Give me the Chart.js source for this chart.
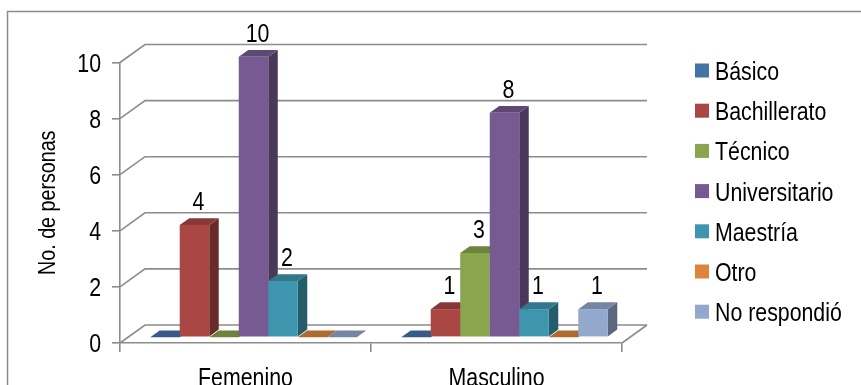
<!DOCTYPE html>
<html>
<head>
<meta charset="utf-8">
<script src="https://cdn.jsdelivr.net/npm/chart.js@4/dist/chart.umd.min.js"></script>
<style>
  body { margin: 0; background: #fff; }
  #wrap { width: 861px; height: 385px; position: relative; }
</style>
</head>
<body>
<div id="wrap"><canvas id="chart"></canvas></div>
<script>
// ── data ──────────────────────────────────────────────
const categories   = ['Femenino', 'Masculino'];
const seriesNames  = ['Básico', 'Bachillerato', 'Técnico', 'Universitario', 'Maestría', 'Otro', 'No respondió'];
const basico        = [0, 0];
const bachillerato  = [4, 1];
const tecnico       = [0, 3];
const universitario = [10, 8];
const maestria      = [2, 1];
const otro          = [0, 0];
const noRespondio   = [0, 1];
const seriesValues  = [basico, bachillerato, tecnico, universitario, maestria, otro, noRespondio];
const seriesColors  = ['#4572A7', '#AA4643', '#89A54E', '#765A91', '#3D96AE', '#DB843D', '#92A8CD'];
const yTitle = 'No. de personas';
const yMin = 0, yMax = 10, yStep = 2;

// no Arial Narrow here, so squeeze Liberation Sans horizontally
const FONT = "'Liberation Sans', Arial, sans-serif";
const NARROW = 0.82;
const GRID = '#8c8c8c';

// 3D look: wall depth, bar offset inside the depth, bar thickness
const WALL_DX = 25, WALL_DY = -18;
const BAR_SX = 8,   BAR_SY = -5.8;
const BAR_DX = 9.5, BAR_DY = -6.8;

function shade(hex, f) {
  const n = parseInt(hex.slice(1), 16);
  const r = Math.round(((n >> 16) & 255) * f);
  const g = Math.round(((n >> 8) & 255) * f);
  const b = Math.round((n & 255) * f);
  return `rgb(${r},${g},${b})`;
}

function poly(ctx, pts, color) {
  ctx.beginPath();
  ctx.moveTo(pts[0][0], pts[0][1]);
  for (let k = 1; k < pts.length; k++) ctx.lineTo(pts[k][0], pts[k][1]);
  ctx.closePath();
  ctx.fillStyle = color;
  ctx.fill();
}

function narrowText(ctx, text, x, y, size, align, rot) {
  ctx.save();
  ctx.translate(x, y);
  if (rot) ctx.rotate(rot);
  ctx.scale(NARROW, 1);
  ctx.font = `${size}px ${FONT}`;
  ctx.fillStyle = '#000';
  ctx.textAlign = align;
  ctx.textBaseline = 'alphabetic';
  ctx.fillText(text, 0, 0);
  ctx.restore();
}

// frame, back walls and floor
const wallsPlugin = {
  id: 'walls',
  beforeDraw(chart) {
    const ctx = chart.ctx;
    ctx.save();
    ctx.strokeStyle = '#8c8c8c';
    ctx.lineWidth = 1.5;
    ctx.strokeRect(7.5, 11.5, 900, 420);
    ctx.restore();
  },
  beforeDatasetsDraw(chart) {
    const ctx = chart.ctx;
    const y = chart.scales.y;
    const { left, right, bottom } = chart.chartArea;
    ctx.save();
    ctx.strokeStyle = GRID;
    ctx.lineWidth = 1.6;
    y.ticks.forEach(t => {
      const py = y.getPixelForValue(t.value);
      ctx.beginPath();
      ctx.moveTo(left, py);
      ctx.lineTo(left + WALL_DX, py + WALL_DY);
      ctx.lineTo(right + WALL_DX, py + WALL_DY);
      ctx.stroke();
    });
    // right edge of the floor
    ctx.beginPath();
    ctx.moveTo(right, bottom);
    ctx.lineTo(right + WALL_DX, bottom + WALL_DY);
    ctx.stroke();
    ctx.restore();
  }
};

// 3D columns + value labels
const barsPlugin = {
  id: 'bars3d',
  beforeDatasetDraw() { return false; },
  afterDatasetsDraw(chart) {
    const ctx = chart.ctx;
    ctx.save();
    categories.forEach((c, j) => {
      chart.data.datasets.forEach((ds, i) => {
        const bar = chart.getDatasetMeta(i).data[j];
        const color = seriesColors[i];
        const l = bar.x - bar.width / 2 + BAR_SX;
        const r = bar.x + bar.width / 2 + BAR_SX;
        const t = bar.y + BAR_SY;
        const b = bar.base + BAR_SY;
        if (b - t > 0.5) {
          poly(ctx, [[r, t], [r + BAR_DX, t + BAR_DY], [r + BAR_DX, b + BAR_DY], [r, b]], shade(color, 0.62));
        }
        poly(ctx, [[l, t], [r, t], [r + BAR_DX, t + BAR_DY], [l + BAR_DX, t + BAR_DY]], shade(color, 0.8));
        if (b - t > 0.5) {
          poly(ctx, [[l, t], [r, t], [r, b], [l, b]], color);
        }
        const v = ds.data[j];
        if (v > 0) narrowText(ctx, String(v), (l + r) / 2 + 4, t + BAR_DY - 8, 26, 'center');
      });
    });
    ctx.restore();
  }
};

// axis texts and the legend, all in the narrow face
const textPlugin = {
  id: 'texts',
  afterDraw(chart) {
    const ctx = chart.ctx;
    const x = chart.scales.x, y = chart.scales.y;
    y.ticks.forEach(t => {
      narrowText(ctx, String(t.value), 101, y.getPixelForValue(t.value) + 9.3, 26, 'right');
    });
    categories.forEach((c, j) => {
      narrowText(ctx, c, x.getPixelForValue(j), 385.5, 26, 'center');
    });
    narrowText(ctx, yTitle, 55, (y.top + y.bottom) / 2, 24, 'center', -Math.PI / 2);

    seriesNames.forEach((name, i) => {
      const cy = 70.5 + i * 40.2;
      ctx.fillStyle = seriesColors[i];
      ctx.fillRect(695, cy - 7, 14, 14);
      narrowText(ctx, name, 715, cy + 9.5, 26, 'left');
    });
  }
};

new Chart(document.getElementById('chart'), {
  type: 'bar',
  data: {
    labels: categories,
    datasets: seriesNames.map((name, i) => ({
      label: name,
      data: seriesValues[i],
      backgroundColor: seriesColors[i],
      categoryPercentage: 0.823,
      barPercentage: 1.0
    }))
  },
  options: {
    responsive: true,
    maintainAspectRatio: false,
    animation: false,
    layout: { padding: { top: 62.5, right: 239, left: 0, bottom: 0 } },
    plugins: { legend: { display: false }, tooltip: { enabled: false } },
    scales: {
      x: {
        grid: { drawOnChartArea: false, drawTicks: true, tickLength: 9, color: GRID, lineWidth: 1.6 },
        border: { display: true, color: GRID, width: 1.6 },
        ticks: { display: false },
        afterFit(s) { s.height = 42; }
      },
      y: {
        min: yMin,
        max: yMax,
        ticks: { stepSize: yStep, display: false },
        grid: { drawOnChartArea: false, drawTicks: true, tickLength: 8, color: GRID, lineWidth: 1.6 },
        border: { display: true, color: GRID, width: 1.6 },
        afterFit(s) { s.width = 120; }
      }
    }
  },
  plugins: [wallsPlugin, barsPlugin, textPlugin]
});
</script>
</body>
</html>
